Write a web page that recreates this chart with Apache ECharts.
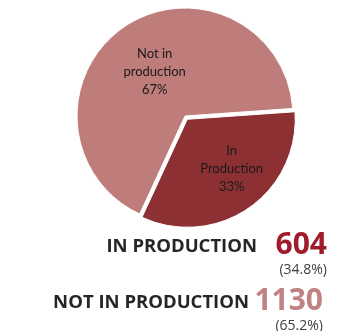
<!DOCTYPE html>
<html>
<head>
<meta charset="utf-8">
<script src="https://cdn.jsdelivr.net/npm/echarts@6/dist/echarts.min.js"></script>
<style>html,body{margin:0;padding:0;background:#fff;}#c{width:340px;height:331px;}</style>
</head>
<body>
<div id="c"></div>
<script>
var categories = ['In\nProduction', 'Not in\nproduction'];
var shares = [33, 67];
var colors = ['#8C3034', '#BE7C7B'];
var summaryLabels = ['IN PRODUCTION', 'NOT IN PRODUCTION'];
var counts = ['604', '1130'];
var countPct = ['(34.8%)', '(65.2%)'];
var countColors = ['#A11C2B', '#C08283'];

var chart = echarts.init(document.getElementById('c'), null, {renderer: 'canvas'});
var data = categories.map(function (c, i) {
  return {
    name: c, value: shares[i], selected: i === 0,
    itemStyle: {color: colors[i]}
  };
});
var labelShift = [[12, 3], [2, 3]];
var lblRight = [257, 249];
var numRight = [327, 323];
var rowY = [247, 303];
var graphics = [];
for (var i = 0; i < 2; i++) {
  graphics.push({type: 'text', x: lblRight[i], y: rowY[i], style: {text: summaryLabels[i], textAlign: 'right', textVerticalAlign: 'middle', font: 'bold 18.5px "Open Sans"', fill: '#262626'}});
  graphics.push({type: 'text', x: numRight[i], y: rowY[i] - 2, style: {text: counts[i], textAlign: 'right', textVerticalAlign: 'middle', font: 'bold 30px "Open Sans"', fill: countColors[i]}});
  graphics.push({type: 'text', x: numRight[i], y: rowY[i] + 23, style: {text: countPct[i], textAlign: 'right', textVerticalAlign: 'middle', font: '14px "Open Sans"', fill: '#404040'}});
}
chart.setOption({
  animation: false,
  series: [{
    type: 'pie',
    center: [185, 116],
    radius: 108,
    startAngle: 4,
    clockwise: true,
    selectedMode: 'single',
    selectedOffset: 4,
    itemStyle: {borderColor: '#fff', borderWidth: 1},
    emphasis: {disabled: true},
    label: {
      show: true, position: 'inside',
      formatter: function (p) { return p.name + '\n' + Math.round(p.percent) + '%'; },
      fontFamily: 'Lato', fontSize: 13, lineHeight: 18, color: '#1a1a1a'
    },
    labelLayout: function (p) {
      return {dx: labelShift[p.dataIndex][0], dy: labelShift[p.dataIndex][1]};
    },
    labelLine: {show: false},
    data: data
  }],
  graphic: graphics
});
</script>
</body>
</html>
